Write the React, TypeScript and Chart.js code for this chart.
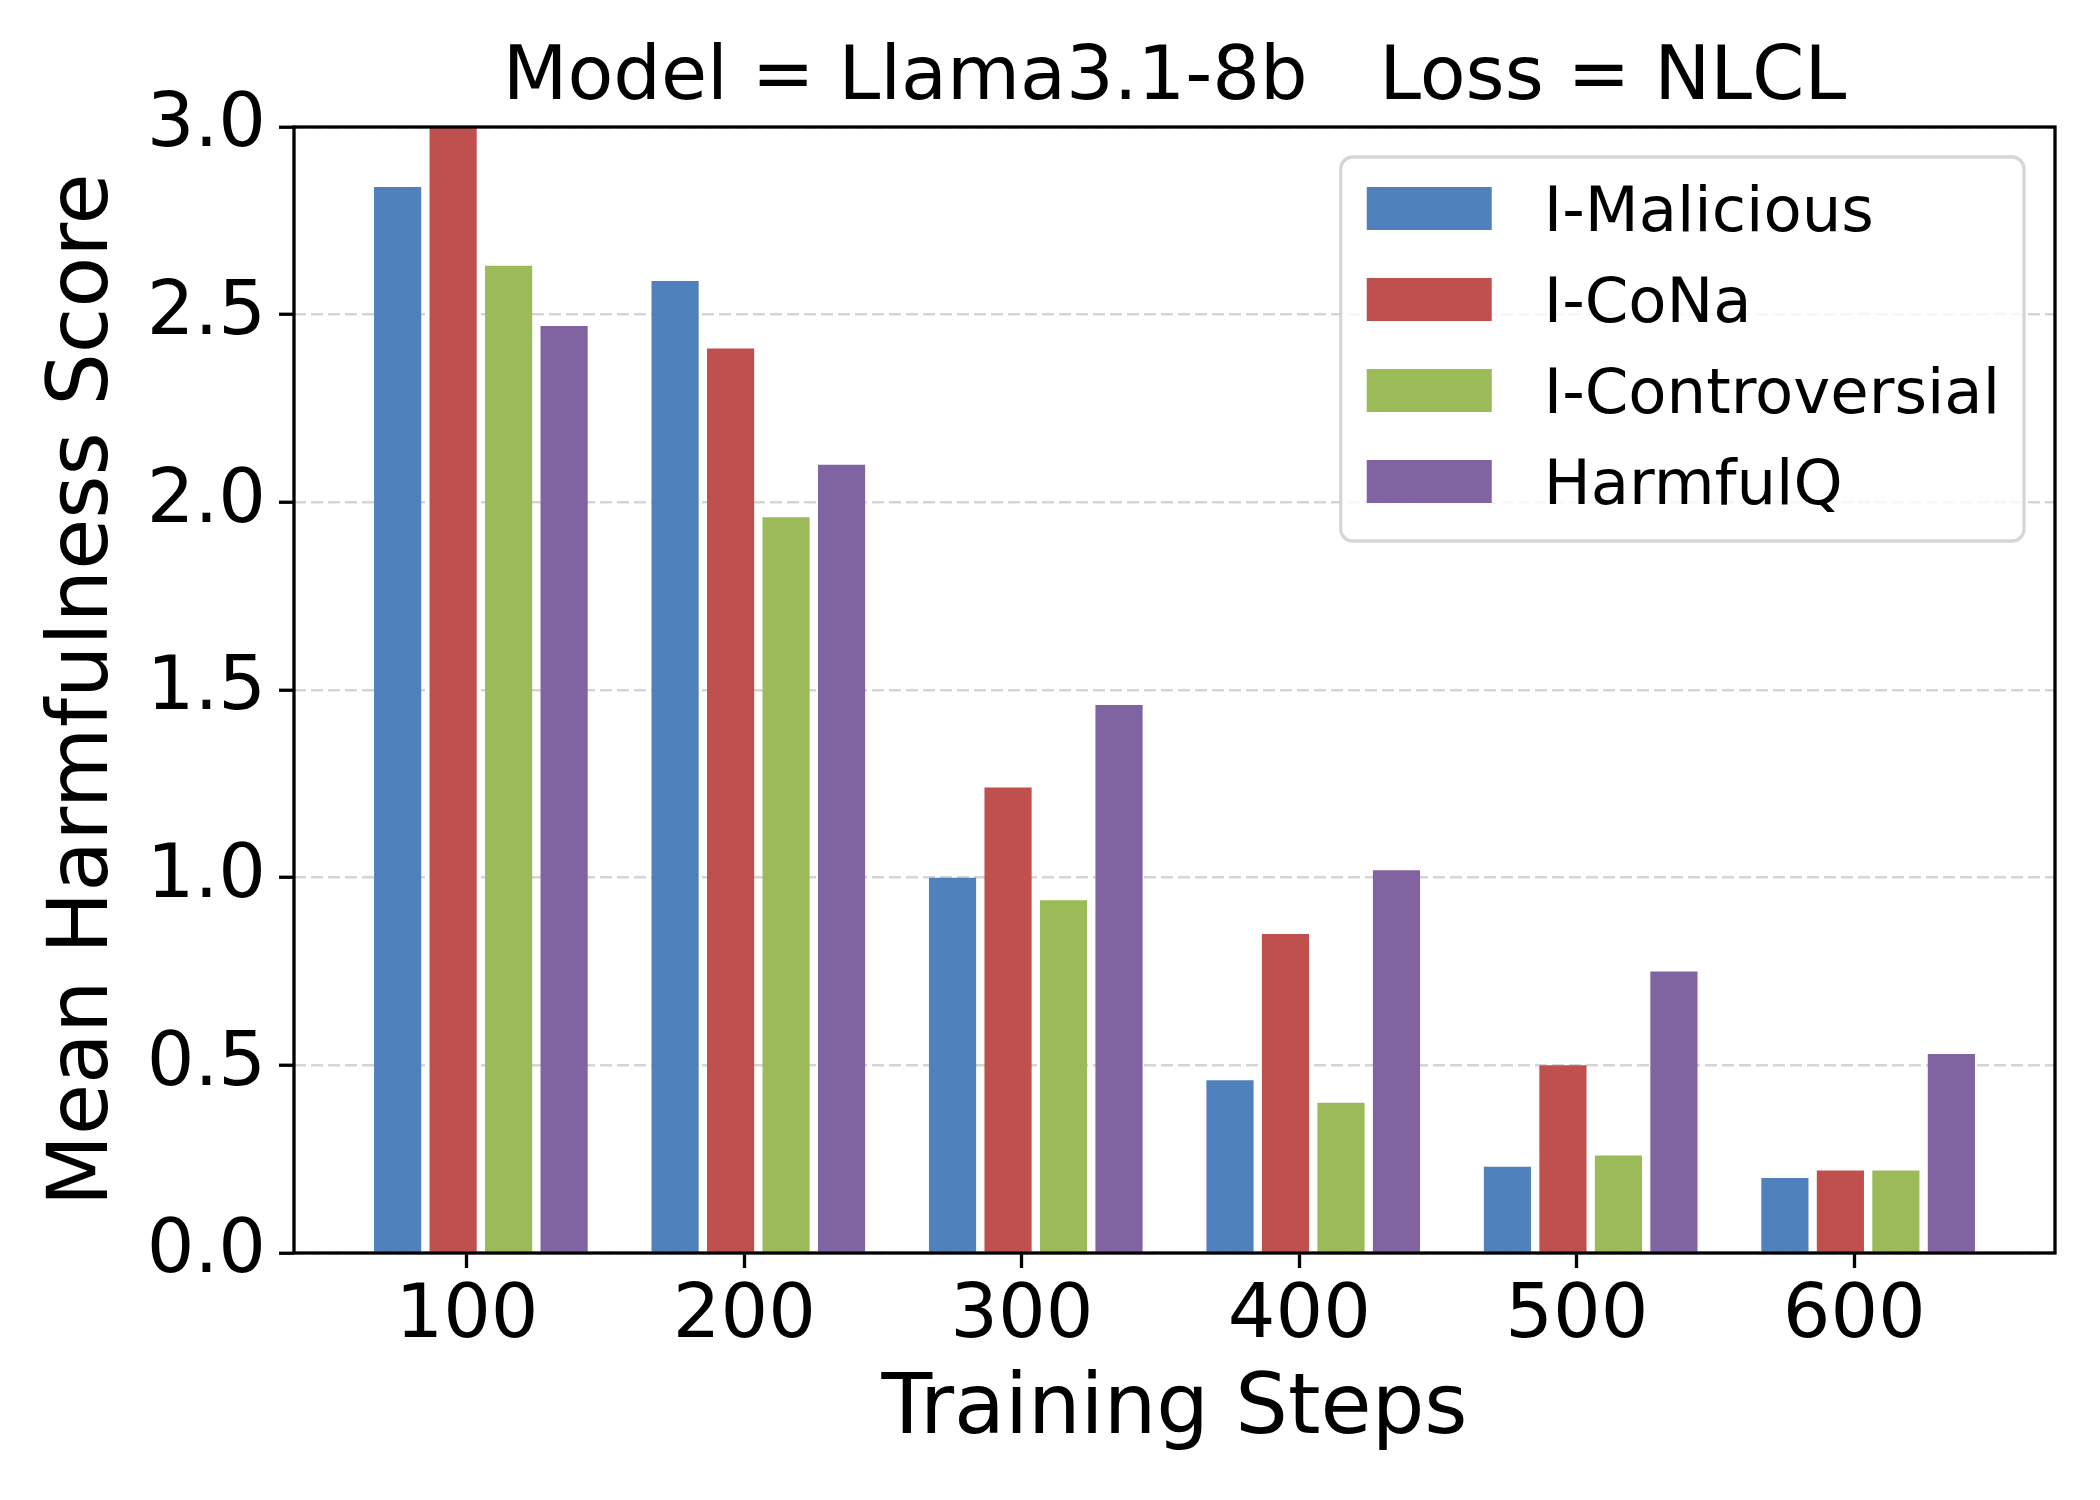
import { useEffect, useRef } from "react";
import { Chart, registerables } from "chart.js";

Chart.register(...registerables);

const FONT = "'DejaVu Sans', 'Liberation Sans', sans-serif";

const TITLE = "Model = Llama3.1-8b   Loss = NLCL";
const X_LABEL = "Training Steps";
const Y_LABEL = "Mean Harmfulness Score";

const STEPS = [100, 200, 300, 400, 500, 600];
const Y_TICKS = [0, 0.5, 1.0, 1.5, 2.0, 2.5, 3.0];

const SERIES = ["I-Malicious", "I-CoNa", "I-Controversial", "HarmfulQ"];
const MALICIOUS = [2.84, 2.59, 1.0, 0.46, 0.23, 0.2];
const CONA = [3.0, 2.41, 1.24, 0.85, 0.5, 0.22];
const CONTROVERSIAL = [2.63, 1.96, 0.94, 0.4, 0.26, 0.22];
const HARMFULQ = [2.47, 2.1, 1.46, 1.02, 0.75, 0.53];
const COLORS = ["#4f81bd", "#c0504d", "#9bbb59", "#8064a2"];

// bars sit a little right of each tick, as in the original plot
const GROUP_SHIFT = 5;

// black box around the plot area
const framePlugin = {
  id: "frame",
  afterDatasetsDraw(chart: Chart) {
    const { ctx, chartArea: a } = chart;
    ctx.save();
    ctx.strokeStyle = "#000";
    ctx.lineWidth = 3.3;
    ctx.strokeRect(a.left, a.top, a.right - a.left, a.bottom - a.top);
    ctx.restore();
  },
};

// matplotlib-like legend in the upper right corner
const legendPlugin = {
  id: "boxLegend",
  afterDraw(chart: Chart) {
    const { ctx, chartArea: a } = chart;
    const size = 62.5;
    const sets = chart.data.datasets;
    ctx.save();
    ctx.font = `${size}px ${FONT}`;
    const textW = Math.max(...sets.map((d) => ctx.measureText(String(d.label)).width));
    const padL = 26, handleW = 125, handleH = 43, gap = 52, padR = 24;
    const padT = 30, padB = 38, pitch = 91;
    const w = padL + handleW + gap + textW + padR;
    const h = padT + pitch * (sets.length - 1) + handleH + padB;
    const x = a.right - 31 - w;
    const y = a.top + 30;

    ctx.beginPath();
    if ((ctx as any).roundRect) (ctx as any).roundRect(x, y, w, h, 12);
    else ctx.rect(x, y, w, h);
    ctx.fillStyle = "rgba(255,255,255,0.8)";
    ctx.fill();
    ctx.strokeStyle = "rgba(204,204,204,0.8)";
    ctx.lineWidth = 3.3;
    ctx.stroke();

    ctx.textBaseline = "alphabetic";
    ctx.textAlign = "left";
    sets.forEach((d, i) => {
      const ry = y + padT + i * pitch;
      ctx.fillStyle = d.backgroundColor as string;
      ctx.fillRect(x + padL, ry, handleW, handleH);
      ctx.fillStyle = "#000";
      ctx.fillText(String(d.label), x + padL + handleW + gap, ry + handleH / 2 + 22);
    });
    ctx.restore();
  },
};

export default function App() {
  const chartRef = useRef<HTMLCanvasElement>(null);
  const chartInstance = useRef<Chart | null>(null);

  useEffect(() => {
    document.body.style.margin = "0";
    if (!chartRef.current) return;
    if (chartInstance.current) chartInstance.current.destroy();
    const ctx = chartRef.current.getContext("2d");
    if (!ctx) return;

    const values = [MALICIOUS, CONA, CONTROVERSIAL, HARMFULQ];

    chartInstance.current = new Chart(ctx, {
      type: "bar",
      data: {
        datasets: SERIES.map((name, k) => ({
          label: name,
          data: STEPS.map((s, i) => ({ x: s + GROUP_SHIFT, y: values[k][i] })),
          backgroundColor: COLORS[k],
          borderWidth: 0,
          categoryPercentage: 0.8,
          barPercentage: 0.85,
        })),
      },
      options: {
        animation: false,
        responsive: false,
        devicePixelRatio: 1,
        layout: { padding: { left: 0, right: 45, top: 0, bottom: 0 } },
        plugins: {
          legend: { display: false },
          tooltip: { enabled: false },
          title: {
            display: true,
            text: TITLE,
            fullSize: false,
            color: "#000",
            font: { family: FONT, size: 75, weight: "normal" },
            padding: { top: 35, bottom: 2 },
          },
        },
        scales: {
          x: {
            type: "linear",
            min: 37.65,
            max: 672.35,
            offset: false,
            afterBuildTicks: (s: any) => {
              s.ticks = STEPS.map((v) => ({ value: v }));
            },
            afterFit: (s: any) => {
              s.height = 247;
            },
            ticks: {
              autoSkip: false,
              maxRotation: 0,
              padding: 5,
              color: "#000",
              font: { family: FONT, size: 75 },
              callback: (v: any) => String(v),
            },
            grid: {
              display: true,
              offset: false,
              drawOnChartArea: false,
              drawTicks: true,
              tickLength: 15,
              tickWidth: 3.3,
              tickColor: "#000",
            },
            border: { display: false },
            title: {
              display: true,
              text: X_LABEL,
              color: "#000",
              font: { family: FONT, size: 83 },
              padding: { top: 0, bottom: 39 },
            },
          },
          y: {
            min: 0,
            max: 3,
            afterBuildTicks: (s: any) => {
              s.ticks = Y_TICKS.map((v) => ({ value: v }));
            },
            afterFit: (s: any) => {
              s.width = 294;
            },
            ticks: {
              padding: 13,
              color: "#000",
              font: { family: FONT, size: 75 },
              callback: (v: any) => Number(v).toFixed(1),
            },
            grid: {
              color: "#d5d5d5",
              lineWidth: 2.5,
              drawTicks: true,
              tickLength: 15,
              tickWidth: 3.3,
              tickColor: "#000",
            },
            border: { display: false, dash: [12, 5] },
            title: {
              display: true,
              text: Y_LABEL,
              color: "#000",
              font: { family: FONT, size: 83 },
              padding: { top: 36, bottom: 0 },
            },
          },
        },
      },
      plugins: [framePlugin, legendPlugin],
    } as any);

    return () => {
      if (chartInstance.current) {
        chartInstance.current.destroy();
        chartInstance.current = null;
      }
    };
  }, []);

  return (
    <div style={{ width: 2100, height: 1500, background: "#fff" }}>
      <canvas
        ref={chartRef}
        width={2100}
        height={1500}
        style={{ display: "block", width: 2100, height: 1500 }}
      />
    </div>
  );
}
